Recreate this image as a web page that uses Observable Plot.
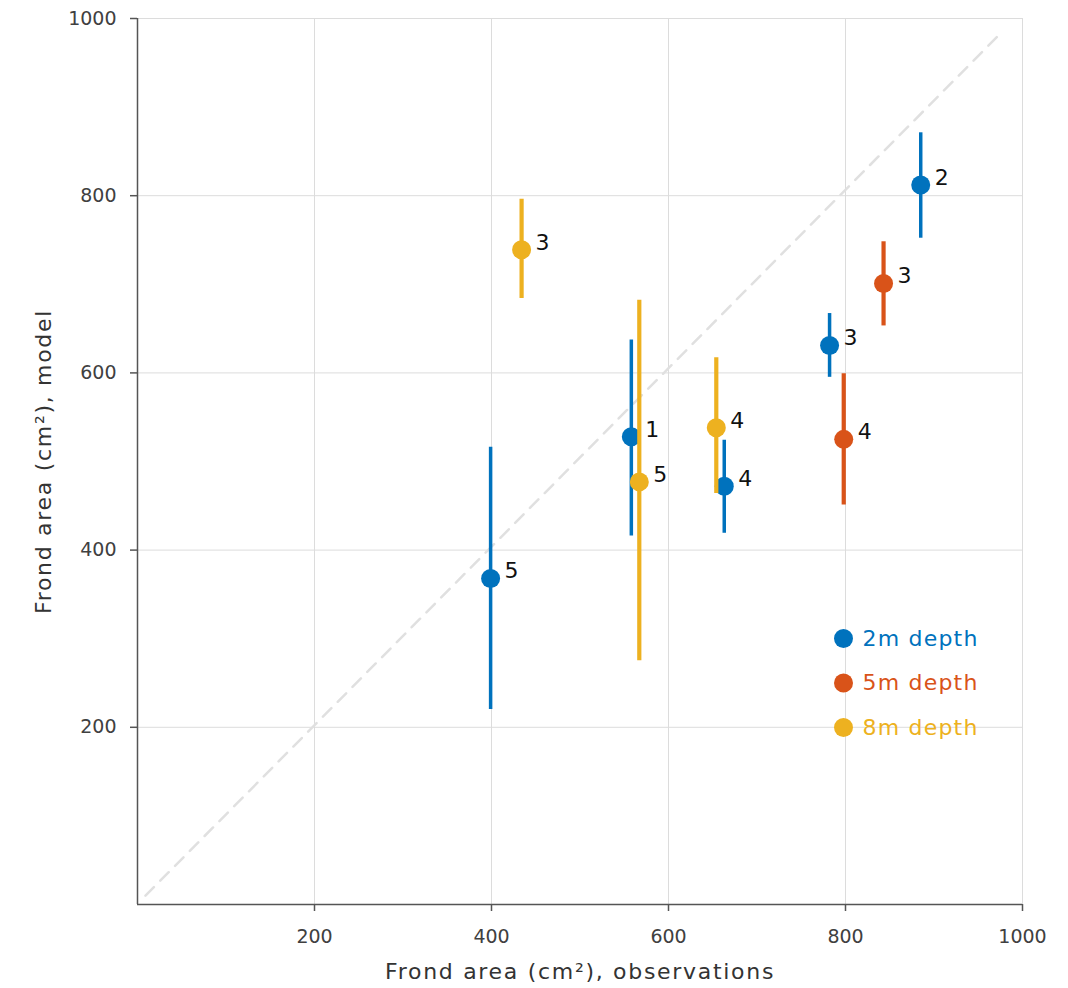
<!DOCTYPE html>
<html>
<head>
<meta charset="utf-8">
<script src="https://cdn.jsdelivr.net/npm/d3@7"></script>
<script src="https://cdn.jsdelivr.net/npm/@observablehq/plot@0.6"></script>
<style>
  html, body { margin: 0; padding: 0; background: #fff; }
  #chart { width: 1068px; height: 988px; }
</style>
</head>
<body>
<div id="chart"></div>
<script>
// ---- data ----
const seriesNames = ["2m depth", "5m depth", "8m depth"];
const seriesColors = ["#0072BD", "#D95319", "#EDB120"];

const obs2m   = [399, 558, 663, 782, 885];
const model2m = [368, 528, 472, 631, 812];
const lo2m    = [220, 416, 419, 595, 752];
const hi2m    = [516, 637, 524, 667, 871];
const lab2m   = ["5", "1", "4", "3", "2"];

const obs5m   = [843, 798];
const model5m = [701, 525];
const lo5m    = [653, 451];
const hi5m    = [748, 599];
const lab5m   = ["3", "4"];

const obs8m   = [434, 567, 654];
const model8m = [739, 477, 538];
const lo8m    = [684, 275, 464];
const hi8m    = [796, 682, 617];
const lab8m   = ["3", "5", "4"];

const xTicks = [200, 400, 600, 800, 1000];
const yTicks = [200, 400, 600, 800, 1000];
const diagX = [9, 978];
const diagY = [10, 986];

const xLabel = "Frond area (cm²), observations";
const yLabel = "Frond area (cm²), model";

// ---- build table ----
function rows(name, obs, model, lo, hi, lab) {
  return obs.map((o, i) => ({series: name, obs: o, model: model[i], lo: lo[i], hi: hi[i], label: lab[i]}));
}
const groups = [
  rows(seriesNames[0], obs2m, model2m, lo2m, hi2m, lab2m),
  rows(seriesNames[1], obs5m, model5m, lo5m, hi5m, lab5m),
  rows(seriesNames[2], obs8m, model8m, lo8m, hi8m, lab8m)
];

const font = "'DejaVu Sans', sans-serif";
const marks = [];

// grid
marks.push(Plot.gridX(xTicks, {stroke: "#dcdcdc", strokeOpacity: 1, strokeWidth: 1}));
marks.push(Plot.gridY(yTicks, {stroke: "#dcdcdc", strokeOpacity: 1, strokeWidth: 1}));

// identity line
marks.push(Plot.line(diagX.map((v, i) => ({x: v, y: diagY[i]})), {
  x: "x", y: "y", stroke: "#e0e0e0", strokeWidth: 2.5, strokeDasharray: "12,9"
}));

// series: error bars then markers, per series
groups.forEach((g, i) => {
  const c = seriesColors[i];
  marks.push(Plot.ruleX(g, {x: "obs", y1: "lo", y2: "hi", stroke: c, strokeWidth: i === 0 ? 3.5 : 4.2}));
  marks.push(Plot.dot(g, {x: "obs", y: "model", r: 9.5, fill: c, stroke: "none"}));
});
groups.forEach((g) => {
  marks.push(Plot.text(g, {x: "obs", y: "model", text: "label", dx: 14, dy: -7, textAnchor: "start",
    lineAnchor: "middle", fill: "#111", fontSize: 22, fontFamily: font}));
});

// axes
marks.push(Plot.axisX({ticks: xTicks, tickFormat: d => String(d), tickSize: 7, tickPadding: 18,
  stroke: "#555", strokeWidth: 1.5, fontSize: 19, fill: "#404040", label: null, fontFamily: font}));
marks.push(Plot.axisY({ticks: yTicks, tickFormat: d => String(d), tickSize: 7, tickPadding: 14,
  stroke: "#555", strokeWidth: 1.5, fontSize: 19, fill: "#404040", label: null, fontFamily: font}));
marks.push(Plot.ruleX([0], {stroke: "#555", strokeWidth: 1.5}));
marks.push(Plot.ruleY([0], {stroke: "#555", strokeWidth: 1.5}));

// axis labels
marks.push(Plot.text([xLabel], {text: d => d, frameAnchor: "bottom", dy: 67, lineAnchor: "middle",
  textAnchor: "middle", fontSize: 22, fill: "#333", fontFamily: font}));
marks.push(Plot.text([yLabel], {text: d => d, frameAnchor: "left", dx: -94, rotate: -90,
  textAnchor: "middle", lineAnchor: "middle", fontSize: 22, fill: "#333", fontFamily: font}));

// legend inside plot
seriesNames.forEach((name, i) => {
  const dy = 620 + i * 44.5;
  marks.push(Plot.dot([name], {frameAnchor: "top-left", dx: 706, dy, r: 9.5, fill: seriesColors[i]}));
  marks.push(Plot.text([name], {text: d => d, frameAnchor: "top-left", dx: 725, dy, textAnchor: "start",
    lineAnchor: "middle", fill: seriesColors[i], fontSize: 22, fontFamily: font}));
});

const chart = Plot.plot({
  width: 1068,
  height: 988,
  marginLeft: 137,
  marginRight: 46,
  marginTop: 18,
  marginBottom: 84,
  x: {domain: [0, 1000]},
  y: {domain: [0, 1000]},
  style: {background: "#fff", fontFamily: font},
  marks
});
d3.select(chart).selectAll("text")
  .filter(function () { return this.textContent === xLabel || this.textContent === yLabel; })
  .attr("letter-spacing", "1.7px");
d3.select(chart).selectAll("text")
  .filter(function () { return seriesNames.includes(this.textContent); })
  .attr("letter-spacing", "1.2px");
document.getElementById("chart").appendChild(chart);
</script>
</body>
</html>
